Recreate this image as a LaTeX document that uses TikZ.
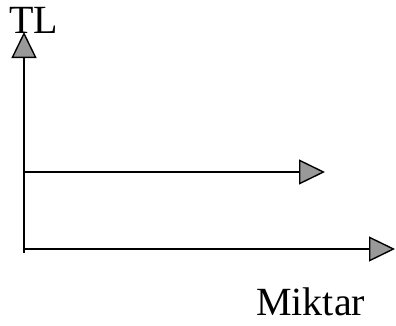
\documentclass[tikz,border=0pt]{standalone}
\usepackage{fontspec}
\setmainfont{Liberation Serif}
\usetikzlibrary{arrows.meta}
\begin{document}
\begin{tikzpicture}[x=1pt,y=1pt,
  axis/.style={line width=2.2pt,draw=black,
    -{Triangle[length=26pt,width=25pt,fill=gray!80,line width=1.4pt]}},
  lbl/.style={inner sep=0pt,font=\fontsize{40}{42}\selectfont}]
\useasboundingbox (0,0) rectangle (396,325);
% axis origin and ends
\coordinate (base) at (24,72);
\coordinate (top) at (24,293);
\coordinate (mid) at (24,153);
\coordinate (midend) at (325,153);
\coordinate (low) at (24,76);
\coordinate (lowend) at (395,76);
% vertical axis
\draw[axis] (base) -- (top);
% horizontal arrows
\draw[axis] (mid) -- (midend);
\draw[axis] (low) -- (lowend);
% labels
\node[lbl,anchor=base west] (tl) at (9,292) {TL};
\node[lbl,anchor=base west] (miktar) at (256,10) {Miktar};
\end{tikzpicture}
\end{document}
